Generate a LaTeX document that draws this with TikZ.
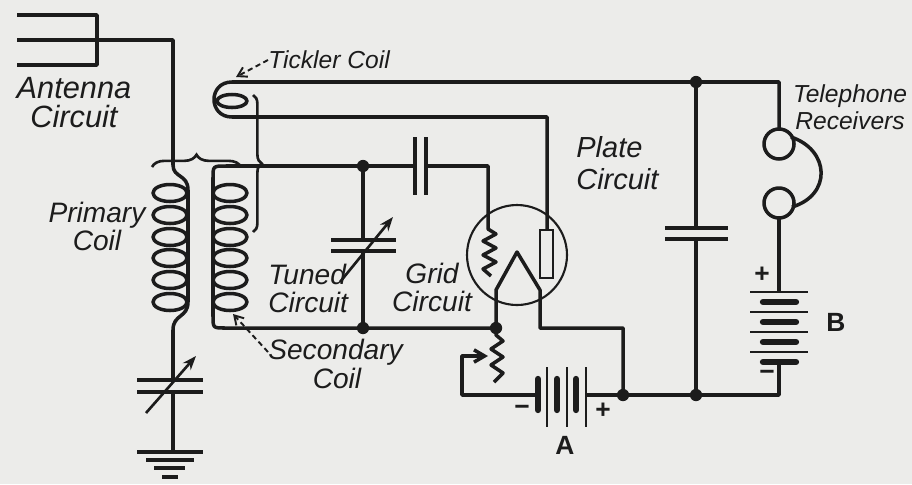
\documentclass[tikz,border=0pt]{standalone}
\usepackage{fontspec}
\setmainfont{Liberation Sans}
\usetikzlibrary{decorations.pathreplacing}
\usetikzlibrary{arrows.meta}

\definecolor{paper}{RGB}{236,236,234}
\definecolor{ink}{RGB}{28,28,28}

\tikzset{
  wire/.style={line width=2pt, line join=round, ink},
  fine/.style={line width=1.2pt, ink},
  heavy/.style={line width=3.6pt, line cap=round, ink},
  jdot/.style={circle, fill=ink, inner sep=0pt, minimum size=7pt},
  lbl/.style={font=\fontsize{16}{16}\selectfont\itshape, align=center, inner sep=0pt, text=ink},
  small lbl/.style={lbl, font=\fontsize{14}{15.5}\selectfont\itshape},
  sign/.style={font=\fontsize{15}{15}\selectfont\bfseries, inner sep=0pt, text=ink},
  leader/.style={line width=1.1pt, ink, dash pattern=on 3pt off 2pt, -{Straight Barb[length=5pt,width=6pt]}},
  tuner/.style={line width=1.5pt, ink, -{Stealth[length=8pt,width=6pt]}},
  brace/.style={line width=1.5pt, ink, decorate, decoration={brace, amplitude=#1}},
}

\begin{document}
\begin{tikzpicture}[x=0.02cm, y=-0.02cm]
  \fill[paper] (0,0) rectangle (912,484);
  \useasboundingbox (0,0) rectangle (912,484);

  % junctions
  \coordinate (antA) at (173,40);
  \coordinate (gA) at (363,166);
  \coordinate (gB) at (363,328);
  \coordinate (fil) at (496,328);
  \coordinate (aR) at (623,395);
  \coordinate (bR) at (696,395);
  \coordinate (tT) at (696,82);

  % antenna and primary coil
  \draw[wire] (17,15) -- (97,15) -- (97,65) -- (17,65);
  \draw[wire] (17,40) -- (antA) -- (173,165) .. controls (173,178) and (188,174) .. (188,190)
    -- (188,302) .. controls (188,318) and (173,314) .. (173,330) -- (173,380);
  \foreach \y in {193,215,237,258,280,302}
    \draw[wire] (170,\y) ellipse [x radius=17, y radius=8.5];
  \draw[wire] (137,380) -- (203,380);
  \draw[wire] (137,392) -- (203,392);
  \draw[tuner] (146,413) -- (196,356);
  \draw[wire] (173,392) -- (173,452);
  \draw[wire] (137,452) -- (203,452);
  \draw[wire] (146,460) -- (194,460);
  \draw[wire] (154,468) -- (185,468);
  \draw[wire] (162,477) -- (178,477);

  % secondary coil
  \foreach \y in {193,215,237,258,280,302}
    \draw[wire] (230,\y) ellipse [x radius=17, y radius=8.5];
  \draw[wire] (213,302) -- (213,178) .. controls (213,166) .. (226,166) -- (gA) -- (415,166);
  \draw[wire] (213,302) -- (213,316) .. controls (213,328) .. (225,328) -- (gB) -- (fil);
  \draw[brace=7pt] (152,167) -- (241,167);
  \draw[brace=5pt] (253,95) -- (253,232);

  % tuned circuit
  \draw[wire] (gA) -- (363,240);
  \draw[wire] (331,240) -- (396,240);
  \draw[wire] (331,251) -- (396,251);
  \draw[wire] (363,251) -- (gB);
  \draw[tuner] (340,282) -- (393,217);

  % grid condenser and grid
  \draw[wire] (415,137) -- (415,195);
  \draw[wire] (426,137) -- (426,195);
  \draw[wire] (426,166) -- (488,166) -- (488,229) -- (496,234) -- (483,241) -- (496,248)
    -- (483,255) -- (496,262) -- (483,269) -- (491,276);

  % tube
  \draw[fine] (517,255) circle [radius=50];
  \draw[fine] (540,230) rectangle (553,278);
  \draw[wire] (fil) -- (496,290) -- (517,252) -- (540,290) -- (540,328) -- (623,328) -- (aR);

  % tickler and plate circuit
  \draw[wire] (547,230) -- (547,117) -- (232,117) .. controls (208,117) and (208,82) .. (232,82)
    -- (tT) -- (779,82) -- (779,129);
  \draw[wire] (232,101) ellipse [x radius=15, y radius=6.5];

  % rheostat and A battery
  \draw[wire] (fil) -- (496,335) -- (503,341) -- (491,349) -- (503,357) -- (491,365)
    -- (503,373) -- (494,382);
  \draw[wire, -{Straight Barb[length=6pt,width=7pt]}] (538,395) -- (462,395) -- (462,356) -- (488,356);
  \foreach \x in {538,557,576}
    \draw[heavy] (\x,379) -- (\x,410);
  \foreach \x in {547,567,586}
    \draw[fine] (\x,367) -- (\x,427);
  \draw[wire] (586,395) -- (aR) -- (bR);

  % bypass condenser
  \draw[wire] (tT) -- (696,228);
  \draw[wire] (665,228) -- (728,228);
  \draw[wire] (665,239) -- (728,239);
  \draw[wire] (696,239) -- (bR);

  % telephone receivers and B battery
  \draw[wire] (779,144) circle [radius=15];
  \draw[wire] (779,203) circle [radius=15];
  \draw[wire] (791,137) .. controls (830,150) and (832,195) .. (792,207);
  \draw[wire] (779,218) -- (779,292);
  \foreach \y in {292,312,332,352}
    \draw[fine] (750,\y) -- (808,\y);
  \foreach \y in {302,322,342,362}
    \draw[heavy] (763,\y) -- (796,\y);
  \draw[wire] (779,362) -- (779,395) -- (bR);

  \foreach \p in {gA,gB,fil,aR,bR,tT}
    \node[jdot] at (\p) {};

  % labels
  \node (antlbl) at (74,103) [lbl, font=\fontsize{17.5}{16.5}\selectfont\itshape] {Antenna\\Circuit};
  \node (prilbl) at (97,226) [lbl] {Primary\\Coil};
  \node (ticklbl) at (268,60) [small lbl, anchor=west] {Tickler Coil};
  \node (tunlbl) at (268,288) [lbl, anchor=west, align=left] {Tuned\\Circuit};
  \node (gridlbl) at (432,287) [lbl] {Grid\\Circuit};
  \node (platelbl) at (576,163) [lbl, anchor=west, align=left, font=\fontsize{16.5}{18.5}\selectfont\itshape] {Plate\\Circuit};
  \node (seclbl) at (268,352) [lbl, anchor=west] {Secondary};
  \node (seccoil) at (337,378) [lbl] {Coil};
  \node (tellbl) at (850,107) [small lbl] {Telephone\\Receivers};
  \node (plusA) at (603,411) [sign] {+};
  \node (minusA) at (522,410) [sign] {−};
  \node (nameA) at (565,445) [sign] {A};
  \node (plusB) at (762,275) [sign] {+};
  \node (minusB) at (767,375) [sign] {−};
  \node (nameB) at (836,322) [sign] {B};

  \draw[leader] (ticklbl.west) -- (236,77);
  \draw[leader] (seclbl.west) -- (233,314);
\end{tikzpicture}
\end{document}
